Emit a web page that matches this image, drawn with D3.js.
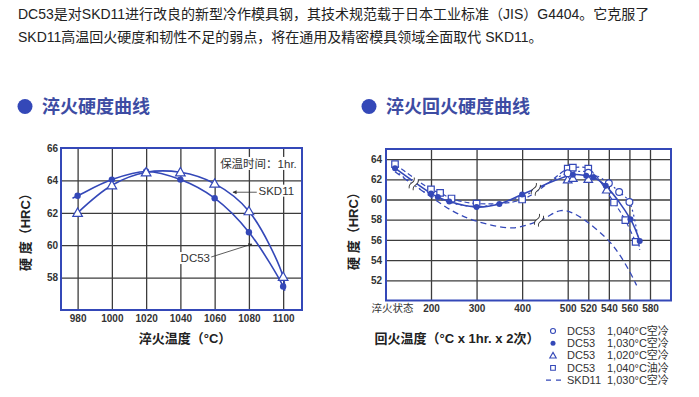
<!DOCTYPE html>
<html>
<head>
<meta charset="utf-8">
<script src="https://cdn.jsdelivr.net/npm/d3@7"></script>
<style>
  body { margin: 0; background: #fff; }
  svg { display: block; font-family: "Liberation Sans", "Noto Sans CJK SC", sans-serif; }
</style>
</head>
<body>
<svg id="chart" width="699" height="397"></svg>
<script>
// ---------- data: 淬火硬度曲线 ----------
const quenchTemps  = [980, 1000, 1020, 1040, 1060, 1080, 1100];
const dc53Quench   = [63.05, 64.05, 64.55, 64.05, 62.9, 60.8, 57.45];
const skd11Quench  = [62.0, 63.7, 64.5, 64.5, 63.8, 62.1, 58.05];
const quenchYTicks = [58, 60, 62, 64, 66];
// curve ends run a little past the measured points
const dc53CurveT  = [977, 980, 1000, 1020, 1040, 1060, 1080, 1100, 1100.8];
const dc53CurveH  = [62.9, 63.05, 64.05, 64.55, 64.05, 62.9, 60.8, 57.45, 57.2];
const skd11CurveT = [980, 1000, 1020, 1040, 1060, 1080, 1100, 1100.8];
const skd11CurveH = [62.0, 63.7, 64.5, 64.5, 63.8, 62.1, 58.05, 57.2];

// ---------- data: 淬火回火硬度曲线 ----------
const QUENCHED = 100;   // slot used for "淬火状态" on the temper axis
const temperTicks  = [200, 300, 400, 500, 520, 540, 560, 580];
const temperYTicks = [52, 54, 56, 58, 60, 62, 64];

// DC53 1,030°C 空冷 (filled dots, solid)
const airT1030 = [QUENCHED, 200, 215, 240, 300, 350, 400, 505, 518, 525, 537, 561, 570];
const airH1030 = [63.1, 60.6, 60.25, 59.8, 59.25, 59.55, 60.5, 62.45, 62.35, 62.2, 61.35, 58.05, 55.9];

// DC53 1,040°C 油冷 (squares, dashed)
const oilT1040 = [QUENCHED, 200, 220, 245, 300, 400, 500, 505, 520, 545, 556, 566];
const oilH1040 = [63.5, 61.0, 60.65, 60.1, 59.6, 60.0, 63.05, 63.15, 63.05, 59.7, 57.95, 55.8];

// DC53 1,040°C 空冷 (open circles) + its dotted curve
const airT1040 = [500, 520, 540, 550, 560];
const airH1040 = [62.6, 62.65, 61.6, 60.75, 59.75];
const dotCurveT = [QUENCHED, 200, 300, 400, 500, 520, 540, 550, 560, 570];
const dotCurveH = [62.9, 60.4, 59.3, 60.3, 62.6, 62.7, 61.6, 60.75, 59.75, 55.0];

// DC53 1,020°C 空冷 (triangles)
const airT1020 = [500, 505, 520, 538];
const airH1020 = [61.95, 62.1, 62.0, 60.95];

// SKD11 1,030°C 空冷 (long dash)
const skdT = [QUENCHED, 200, 250, 300, 380, 440, 485, 505, 520, 540, 550, 560, 567];
const skdH = [62.75, 60.25, 58.8, 57.85, 57.2, 57.95, 58.9, 58.65, 57.7, 55.9, 54.6, 52.9, 51.5];

// axis breaks drawn on the curves
const breakT = [152, 430, 437];
const breakH = [61.55, 61.0, 57.95];

const legendSteel = ['DC53', 'DC53', 'DC53', 'DC53', 'SKD11'];
const legendCond  = ['1,040°C空冷', '1,030°C空冷', '1,020°C空冷', '1,040°C油冷', '1,030°C空冷'];

// ---------- style ----------
const blue = '#3448b8';
const grid = '#3c3c3c';
const ink  = '#333';

const svg = d3.select('#chart');

svg.append('defs').append('marker')
    .attr('id', 'arrow')
    .attr('viewBox', '0 0 10 10')
    .attr('refX', 9).attr('refY', 5)
    .attr('markerWidth', 6).attr('markerHeight', 5)
    .attr('orient', 'auto-start-reverse')
    .append('path')
    .attr('d', 'M0,0 L10,5 L0,10 z')
    .attr('fill', ink);

// ---------- header ----------
const header = [
    'DC53是对SKD11进行改良的新型冷作模具钢，其技术规范载于日本工业标准（JIS）G4404。它克服了',
    'SKD11高温回火硬度和韧性不足的弱点，将在通用及精密模具领域全面取代 SKD11。'
];
svg.selectAll('text.head')
    .data(header)
    .join('text')
    .attr('class', 'head')
    .attr('x', 18)
    .attr('y', (d, i) => 19 + i * 23)
    .attr('font-size', 14)
    .attr('fill', '#222')
    .text(d => d);

function sectionTitle(cx, text) {
    svg.append('circle')
        .attr('cx', cx).attr('cy', 106.5).attr('r', 7.5)
        .attr('fill', blue);
    svg.append('text')
        .attr('x', cx + 17).attr('y', 113)
        .attr('font-size', 18).attr('font-weight', 'bold')
        .attr('fill', '#3d4ca3')
        .text(text);
}
sectionTitle(25, '淬火硬度曲线');
sectionTitle(369, '淬火回火硬度曲线');

function drawGrid(g, x, y, xVals, yVals, box) {
    g.append('g')
        .attr('transform', `translate(0,${box.bottom})`)
        .call(d3.axisBottom(x).tickValues(xVals).tickSize(-(box.bottom - box.top)).tickFormat(''))
        .call(a => a.select('.domain').remove())
        .selectAll('line').attr('stroke', grid).attr('stroke-width', 1.3);
    g.append('g')
        .attr('transform', `translate(${box.left},0)`)
        .call(d3.axisLeft(y).tickValues(yVals).tickSize(-(box.right - box.left)).tickFormat(''))
        .call(a => a.select('.domain').remove())
        .selectAll('line').attr('stroke', grid).attr('stroke-width', 1.3);
}

function tickLabels(g, axis, tr) {
    g.append('g')
        .attr('transform', tr)
        .call(axis)
        .call(a => a.select('.domain').remove())
        .call(a => a.selectAll('line').remove())
        .selectAll('text')
        .attr('font-size', 10).attr('font-weight', 'bold')
        .attr('font-family', '"Liberation Sans", "Noto Sans CJK SC", sans-serif')
        .attr('fill', ink);
}

function yTitle(x, cy) {
    svg.append('text')
        .attr('transform', `translate(${x},${cy}) rotate(-90)`)
        .attr('text-anchor', 'middle')
        .attr('dy', '0.35em')
        .attr('font-size', 13).attr('font-weight', 'bold')
        .attr('fill', '#222')
        .text('硬 度（HRC）');
}

// =================== left chart ===================
const L = {left: 61, right: 302, top: 148, bottom: 310};
const xL = d3.scaleLinear().domain([970.3, 1111]).range([L.left, L.right]);
const yL = d3.scaleLinear().domain([56, 66]).range([L.bottom, L.top]);

const gLeft = svg.append('g');
drawGrid(gLeft, xL, yL, quenchTemps, quenchYTicks.slice(0, -1), L);

tickLabels(gLeft, d3.axisBottom(xL).tickValues(quenchTemps).tickFormat(d3.format('d')).tickSize(0).tickPadding(5), `translate(0,${L.bottom})`);
tickLabels(gLeft, d3.axisLeft(yL).tickValues(quenchYTicks).tickSize(0).tickPadding(3), `translate(${L.left},0)`);

gLeft.append('rect')
    .attr('x', L.left).attr('y', L.top)
    .attr('width', L.right - L.left).attr('height', L.bottom - L.top)
    .attr('fill', 'none').attr('stroke', blue).attr('stroke-width', 2);

// annotations (white boxes hide the grid like the original)
function label(g, x, y, text, size, anchor) {
    const t = g.append('text')
        .attr('x', x).attr('y', y)
        .attr('font-size', size).attr('fill', ink)
        .attr('text-anchor', anchor || 'start')
        .text(text);
    const b = t.node().getBBox();
    g.insert('rect', () => t.node())
        .attr('x', b.x - 1).attr('y', b.y).attr('width', b.width + 2).attr('height', b.height)
        .attr('fill', '#fff');
}
label(gLeft, xL(1063.2), yL(64.77), '保温时间：1hr.', 11.5);
label(gLeft, xL(1085.6), yL(63.12), 'SKD11', 11.5);
label(gLeft, xL(1057.3), yL(58.96), 'DC53', 11.5, 'end');

gLeft.append('line')
    .attr('x1', xL(1084.6)).attr('y1', yL(63.27))
    .attr('x2', xL(1070.7)).attr('y2', yL(63.27))
    .attr('stroke', ink).attr('stroke-width', 0.8)
    .attr('marker-end', 'url(#arrow)');
gLeft.append('line')
    .attr('x1', xL(1058)).attr('y1', yL(59.27))
    .attr('x2', xL(1081.8)).attr('y2', yL(60.07))
    .attr('stroke', ink).attr('stroke-width', 0.8)
    .attr('marker-end', 'url(#arrow)');

const lineL = d3.line()
    .x(d => xL(d[0])).y(d => yL(d[1]))
    .curve(d3.curveCatmullRom.alpha(0.5));

gLeft.append('path')
    .attr('d', lineL(d3.zip(dc53CurveT, dc53CurveH)))
    .attr('fill', 'none').attr('stroke', blue).attr('stroke-width', 1.6);
gLeft.append('path')
    .attr('d', lineL(d3.zip(skd11CurveT, skd11CurveH)))
    .attr('fill', 'none').attr('stroke', blue).attr('stroke-width', 1.6);

gLeft.selectAll('circle.dc')
    .data(d3.zip(quenchTemps, dc53Quench))
    .join('circle')
    .attr('cx', d => xL(d[0])).attr('cy', d => yL(d[1]))
    .attr('r', 3.2).attr('fill', blue);

const tri = d3.symbol(d3.symbolTriangle);
gLeft.selectAll('path.tri')
    .data(d3.zip(quenchTemps, skd11Quench))
    .join('path')
    .attr('class', 'tri')
    .attr('transform', d => `translate(${xL(d[0])},${yL(d[1]) + 0.8})`)
    .attr('d', tri.size(40)())
    .attr('fill', '#fff').attr('stroke', blue).attr('stroke-width', 1.2);

yTitle(25, 229);
svg.append('text')
    .attr('x', 185).attr('y', 343)
    .attr('text-anchor', 'middle')
    .attr('font-size', 13).attr('font-weight', 'bold').attr('fill', '#222')
    .text('淬火温度（°C）');

// =================== right chart ===================
const R = {left: 386, right: 671, top: 149, bottom: 300.5};
const xR = d3.scaleLinear()
    .domain([QUENCHED, 200, 500, 580])
    .range([R.left + 9, R.left + 45, R.left + 181.7, R.left + 264]);
const yR = d3.scaleLinear().domain([50, 65]).range([R.bottom, R.top]);

const gRight = svg.append('g');
drawGrid(gRight, xR, yR, temperTicks, temperYTicks, R);

tickLabels(gRight,
    d3.axisBottom(xR).tickValues([QUENCHED].concat(temperTicks))
        .tickFormat(d => d === QUENCHED ? '淬火状态' : d)
        .tickSize(0).tickPadding(4),
    `translate(0,${R.bottom})`);
gRight.selectAll('text').filter(d => d === QUENCHED)
    .attr('dx', -3).attr('font-weight', 'normal').attr('font-size', 10.5);
tickLabels(gRight, d3.axisLeft(yR).tickValues(temperYTicks).tickSize(0).tickPadding(4), `translate(${R.left},0)`);

gRight.append('rect')
    .attr('x', R.left).attr('y', R.top)
    .attr('width', R.right - R.left).attr('height', R.bottom - R.top)
    .attr('fill', 'none').attr('stroke', blue).attr('stroke-width', 2);

const lineR = d3.line()
    .x(d => xR(d[0])).y(d => yR(d[1]))
    .curve(d3.curveCatmullRom.alpha(0.5));

gRight.append('path')
    .attr('d', lineR(d3.zip(skdT, skdH)))
    .attr('fill', 'none').attr('stroke', blue).attr('stroke-width', 1.3)
    .attr('stroke-dasharray', '6,4');
gRight.append('path')
    .attr('d', lineR(d3.zip(oilT1040, oilH1040)))
    .attr('fill', 'none').attr('stroke', blue).attr('stroke-width', 1.2)
    .attr('stroke-dasharray', '5,3');
gRight.append('path')
    .attr('d', lineR(d3.zip(dotCurveT, dotCurveH)))
    .attr('fill', 'none').attr('stroke', blue).attr('stroke-width', 1.2)
    .attr('stroke-dasharray', '2,3');
gRight.append('path')
    .attr('d', lineR(d3.zip(airT1030, airH1030)))
    .attr('fill', 'none').attr('stroke', blue).attr('stroke-width', 1.6);

// break marks
const brk = gRight.selectAll('g.brk')
    .data(d3.zip(breakT, breakH))
    .join('g')
    .attr('transform', d => `translate(${xR(d[0])},${yR(d[1])}) rotate(-65)`);
brk.append('rect')
    .attr('x', -6).attr('y', -2.5).attr('width', 12).attr('height', 5)
    .attr('fill', '#fff');
brk.selectAll('path')
    .data([-2.2, 2.2])
    .join('path')
    .attr('d', dy => `M-6,${dy} q3,-2 6,0 q3,2 6,0`)
    .attr('fill', 'none').attr('stroke', ink).attr('stroke-width', 0.9);

// markers
const sq = d3.symbol(d3.symbolSquare).size(42);
gRight.selectAll('path.sq')
    .data(d3.zip(oilT1040, oilH1040))
    .join('path')
    .attr('class', 'sq')
    .attr('transform', d => `translate(${xR(d[0])},${yR(d[1])})`)
    .attr('d', sq())
    .attr('fill', '#fff').attr('stroke', blue).attr('stroke-width', 1.2);
gRight.selectAll('path.tri')
    .data(d3.zip(airT1020, airH1020))
    .join('path')
    .attr('class', 'tri')
    .attr('transform', d => `translate(${xR(d[0])},${yR(d[1]) + 0.6})`)
    .attr('d', tri.size(32)())
    .attr('fill', '#fff').attr('stroke', blue).attr('stroke-width', 1.2);
gRight.selectAll('circle.open')
    .data(d3.zip(airT1040, airH1040))
    .join('circle')
    .attr('class', 'open')
    .attr('cx', d => xR(d[0])).attr('cy', d => yR(d[1]))
    .attr('r', 3.4)
    .attr('fill', '#fff').attr('stroke', blue).attr('stroke-width', 1.2);
gRight.selectAll('circle.dot')
    .data(d3.zip(airT1030, airH1030))
    .join('circle')
    .attr('class', 'dot')
    .attr('cx', d => xR(d[0])).attr('cy', d => yR(d[1]))
    .attr('r', 3).attr('fill', blue);

yTitle(353, 228);
svg.append('text')
    .attr('x', 457).attr('y', 343)
    .attr('text-anchor', 'middle')
    .attr('font-size', 13).attr('font-weight', 'bold').attr('fill', '#222')
    .text('回火温度（°C x 1hr. x 2次）');

// ---------- legend ----------
const leg = svg.append('g').attr('transform', 'translate(553,331)');
const rows = leg.selectAll('g')
    .data(d3.zip(legendSteel, legendCond))
    .join('g')
    .attr('transform', (d, i) => `translate(0,${i * 12.3})`);
rows.append('text')
    .attr('x', 14).attr('dy', '0.35em')
    .attr('font-size', 11).attr('fill', ink)
    .text(d => d[0]);
rows.append('text')
    .attr('x', 54).attr('dy', '0.35em')
    .attr('font-size', 11).attr('fill', ink)
    .text(d => d[1]);

const legRow = i => d3.select(rows.nodes()[i]);
legRow(0).append('circle').attr('r', 2.5).attr('fill', '#fff').attr('stroke', blue).attr('stroke-width', 1.1);
legRow(1).append('circle').attr('r', 2.5).attr('fill', blue);
legRow(2).append('path').attr('d', tri.size(18)()).attr('transform', 'translate(0,0.5)')
    .attr('fill', '#fff').attr('stroke', blue).attr('stroke-width', 1.1);
legRow(3).append('path').attr('d', d3.symbol(d3.symbolSquare).size(22)())
    .attr('fill', '#fff').attr('stroke', blue).attr('stroke-width', 1.1);
legRow(4).append('line').attr('x1', -7).attr('x2', 9)
    .attr('stroke', blue).attr('stroke-width', 1.3).attr('stroke-dasharray', '5,5');
</script>
</body>
</html>
